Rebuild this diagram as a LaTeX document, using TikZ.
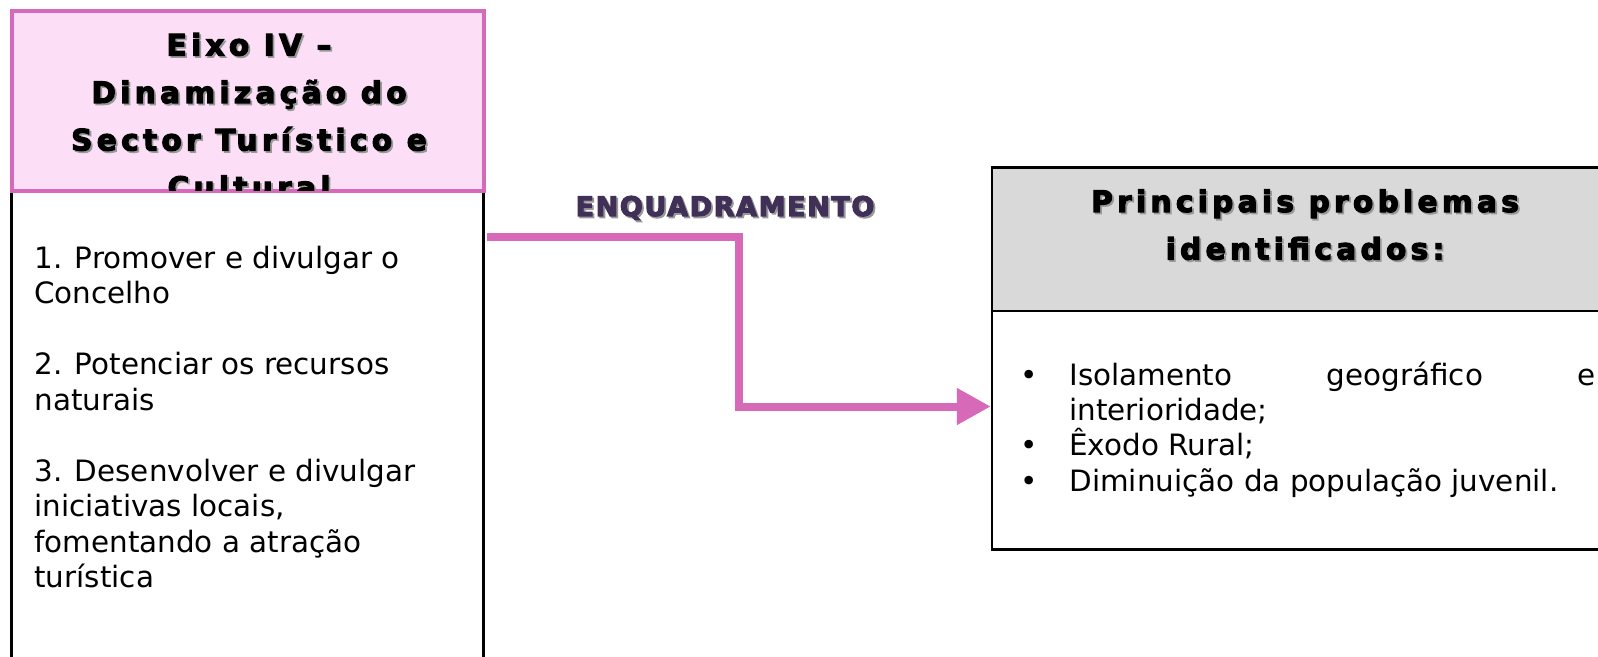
\documentclass[tikz,border=0pt]{standalone}
\usepackage{fontspec}
\setmainfont{DejaVu Sans}
\newfontfamily\headfont[LetterSpace=14.5]{DejaVu Sans Bold}
\newfontfamily\tagfont[LetterSpace=6]{DejaVu Sans Bold}
\usetikzlibrary{arrows.meta}

\definecolor{axispink}{HTML}{D66AB8}
\definecolor{axisfill}{HTML}{FCDEF6}
\definecolor{tagpurple}{HTML}{403058}
\definecolor{headgray}{HTML}{D9D9D9}

% heavier strokes for the bold headings
\newcommand{\heavy}[1]{\special{pdf:literal direct 2 Tr 0.55 w}#1\special{pdf:literal direct 0 Tr}}
\newcommand{\shd}[1]{\leavevmode\rlap{\kern0.9pt\raisebox{-0.9pt}{\color{black!40}\heavy{#1}}}\heavy{#1}}
\newcommand{\bul}{\llap{\textbullet\hspace{15.6pt}}}

\tikzstyle{hdr}=[draw=axispink, line width=2pt, fill=axisfill, minimum width=236.25pt, minimum height=89.9pt, inner sep=0pt]
\tikzstyle{colbox}=[draw, line width=1.75pt, minimum width=236pt, minimum height=254.35pt, inner sep=0pt]
\tikzstyle{probhdr}=[draw, line width=1.25pt, fill=headgray, minimum width=311pt, minimum height=71.75pt, inner sep=0pt]
\tikzstyle{probbox}=[draw, line width=1.25pt, minimum width=311pt, minimum height=119.25pt, inner sep=0pt]
\tikzstyle{txt}=[inner sep=0pt, align=left, font=\fontsize{14.7}{17.75}\selectfont]
\tikzstyle{ttl}=[inner sep=0pt, align=center, font=\headfont\fontsize{14.8}{23.75}\selectfont]
\tikzstyle{flow}=[-{Triangle[length=17pt,width=17.5pt]}, line width=4pt, draw=axispink]

\begin{document}
\begin{tikzpicture}[x=0.5pt, y=-0.5pt]
    \useasboundingbox (0,0) rectangle (1598,657);
    \clip (0,0) rectangle (1598,657);
    \node[colbox] (eixobody) at (247.5,445.65) {};
    \node[hdr] (eixo) at (247.75,101.4) {};
    % multi-line nodes sit on the baseline of their last line
    \begin{scope}
      \clip (eixo.north west) rectangle ([yshift=1.4pt]eixo.south east);
      \node[ttl, anchor=base] (eixotitle) at (249,198)
        {\shd{Eixo IV –}\\\shd{Dinamização do}\\\shd{Sector Turístico e}\\\shd{Cultural}};
    \end{scope}
    \node[txt, anchor=base west] (aims) at (34,587.5)
      {1. Promover e divulgar o\\Concelho\\[17.75pt]2. Potenciar os recursos\\naturais\\[17.75pt]3. Desenvolver e divulgar\\iniciativas locais,\\fomentando a atração\\turística};
    \node[anchor=base, inner sep=0pt, text=tagpurple, font=\tagfont\fontsize{13.5}{15}\selectfont] (frame) at (725,216) {\shd{ENQUADRAMENTO}};
    \node[probhdr] (probhead) at (1303,239.25) {};
    \node[probbox] (probs) at (1303,430.25) {};
    \node[ttl, anchor=base] (probtitle) at (1305,259.5)
      {\shd{Principais problemas}\\\shd{identificados:}};
    \node[txt, anchor=base west, font=\fontsize{14.7}{17.65}\selectfont] (problist) at (1069,491)
      {\bul\makebox[263pt][l]{Isolamento\hfill geográfico\hfill e}\\interioridade;\\\bul Êxodo Rural;\\\bul Diminuição da população juvenil.};
    \coordinate (exitpt) at (0,237.5);
    \coordinate (elbow) at (739,406.5);
    \draw[flow] ([xshift=0.9pt]eixobody.east |- exitpt) -| (elbow) -- (probs.west |- elbow);
\end{tikzpicture}
\end{document}
